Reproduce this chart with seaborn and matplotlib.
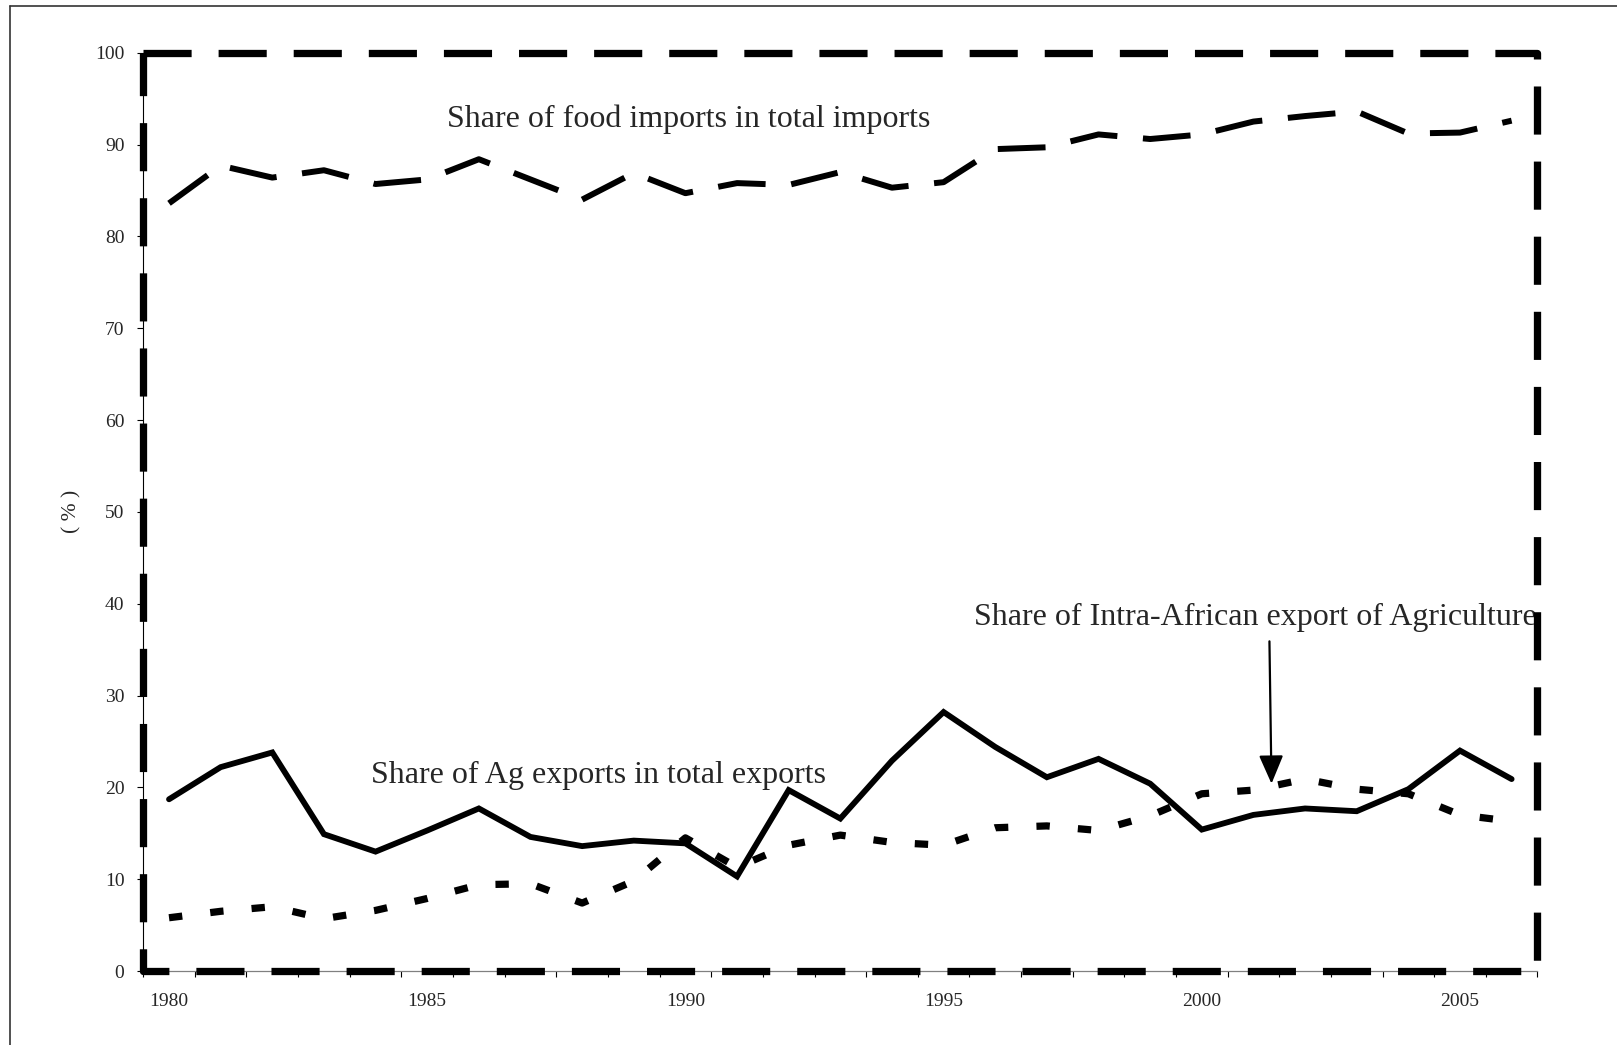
import matplotlib
matplotlib.use("Agg")
import matplotlib.pyplot as plt
from matplotlib.lines import Line2D
import seaborn as sns
import pandas as pd

years = list(range(1980, 2007))
food_imports = [83.6, 87.7, 86.4, 87.2, 85.7, 86.2, 88.4, 86.2, 84.0, 86.9,
                84.7, 85.8, 85.6, 87.0, 85.3, 85.9, 89.5, 89.7, 91.1, 90.6,
                91.1, 92.5, 93.1, 93.6, 91.2, 91.3, 92.6]
ag_exports = [18.7, 22.2, 23.8, 14.9, 13.0, 15.3, 17.7, 14.6, 13.6, 14.2,
              13.9, 10.3, 19.7, 16.6, 22.9, 28.2, 24.4, 21.1, 23.1, 20.4,
              15.4, 17.0, 17.7, 17.4, 19.8, 24.0, 20.9]
intra_african = [5.8, 6.5, 7.0, 5.7, 6.6, 7.9, 9.4, 9.5, 7.4, 9.8,
                 14.5, 11.3, 13.7, 14.8, 14.0, 13.7, 15.6, 15.8, 15.3, 16.9,
                 19.3, 19.7, 20.9, 19.8, 19.3, 17.0, 16.3]
xtick_labels = ["1980", "1985", "1990", "1995", "2000", "2005"]
yticks = list(range(0, 101, 10))

label_food = "Share of food imports in total imports"
label_ag = "Share of Ag exports in total exports"
label_intra = "Share of Intra-African export of Agriculture"

df = pd.DataFrame({"idx": range(len(years)), "year": years,
                   "food": food_imports, "ag": ag_exports, "intra": intra_african})

sns.set_style("white")
plt.rcParams["font.family"] = ["Liberation Serif", "DejaVu Serif"]

fig = plt.figure(figsize=(16.17, 10.45), dpi=100)
ax = fig.add_axes([0.08856, 0.07081, 0.9508 - 0.08856, 0.94957 - 0.07081])

sns.lineplot(data=df, x="idx", y="food", ax=ax, color="black", linewidth=4.3)
ax.lines[-1].set_linestyle((0, (8.0, 4.3)))
ax.lines[-1].set_dash_capstyle("butt")
sns.lineplot(data=df, x="idx", y="ag", ax=ax, color="black", linewidth=4.2)
ax.lines[-1].set_solid_joinstyle("miter")
sns.lineplot(data=df, x="idx", y="intra", ax=ax, color="black", linewidth=5.2)
ax.lines[-1].set_linestyle((0, (1.85, 3.9)))
ax.lines[-1].set_dash_capstyle("butt")

n = len(years)
ax.set_xlim(-0.5, n - 0.5)
ax.set_ylim(0, 100)
ax.set_yticks(yticks)
ax.set_yticklabels([str(v) for v in yticks])

# tick marks between categories, labels at every 5th category
ax.set_xticks([i - 0.5 for i in range(n + 1)])
ax.set_xticklabels([""] * (n + 1))
ax.set_xticks([years.index(int(l)) for l in xtick_labels], minor=True)
ax.set_xticklabels(xtick_labels, minor=True)
ax.tick_params(axis="x", which="major", direction="out", length=4.5, width=0.8,
               color="black", bottom=True)
ax.tick_params(axis="x", which="minor", length=0, pad=16, labelsize=14,
               bottom=True)
ax.tick_params(axis="y", which="major", direction="out", length=4.5, width=0.8,
               color="black", pad=9, labelsize=14, left=True)

ax.set_xlabel("")
ax.set_ylabel("( % )", fontsize=15.5, va="center")
ax.yaxis.set_label_coords(-0.0515, 0.501)

for s in ["top", "right"]:
    ax.spines[s].set_visible(False)
ax.spines["left"].set_color("black")
ax.spines["left"].set_linewidth(0.8)
ax.spines["bottom"].set_color("#808080")
ax.spines["bottom"].set_linewidth(0.9)

# thick dashed plot-area border
frame = Line2D([0, 1, 1, 0, 0], [1, 1, 0, 0, 1], transform=ax.transAxes,
               color="black", linewidth=5.25, linestyle=(0, (6.6, 3.7)),
               clip_on=False, zorder=10)
frame.set_dash_capstyle("butt")
ax.add_line(frame)

# annotations
ax.text(5.39, 92.8, label_food, fontsize=23, ha="left", va="center")
ax.text(3.91, 21.3, label_ag, fontsize=23, ha="left", va="center")
ax.text(15.58, 38.5, label_intra, fontsize=23, ha="left", va="center")
ax.annotate("", xy=(21.35, 20.4), xytext=(21.31, 35.9),
            arrowprops=dict(arrowstyle="-|>,head_length=0.7,head_width=0.3",
                            color="black", lw=1.6, mutation_scale=25,
                            shrinkA=0, shrinkB=0))

# chart-area border (top and left visible)
W, H = 1617, 1045
fig.add_artist(Line2D([10 / W, 10 / W], [0, 1 - 6 / H], transform=fig.transFigure,
                      color="#333333", linewidth=1.2))
fig.add_artist(Line2D([10 / W, 1], [1 - 6 / H, 1 - 6 / H], transform=fig.transFigure,
                      color="#333333", linewidth=1.2))

fig.savefig("out.png", dpi=100, facecolor="white")
